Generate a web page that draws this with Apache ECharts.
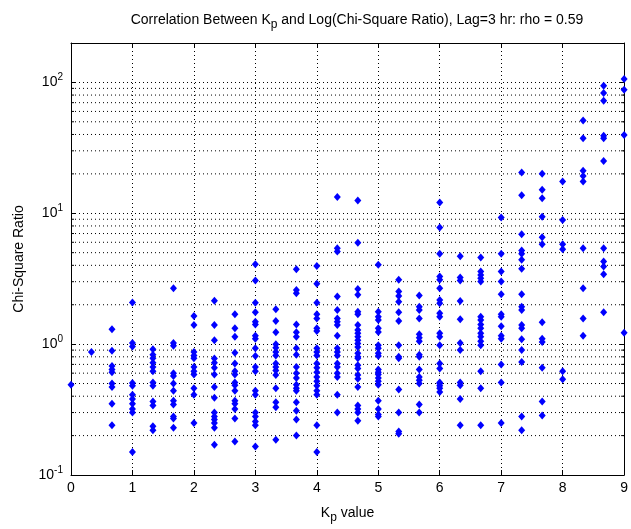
<!DOCTYPE html>
<html>
<head>
<meta charset="utf-8">
<script src="https://cdn.jsdelivr.net/npm/echarts@6/dist/echarts.min.js"></script>
<style>html,body{margin:0;padding:0;background:#fff;}#c{width:631px;height:529px;}</style>
</head>
<body>
<div id="c"></div>
<script>
// Kp levels (x) and chi-square ratios (y), one list per Kp level
const kpLevels = [0, 0.333, 0.667, 1, 1.333, 1.667, 2, 2.333, 2.667, 3, 3.333, 3.667, 4, 4.333, 4.667, 5, 5.333, 5.667, 6, 6.333, 6.667, 7, 7.333, 7.667, 8, 8.333, 8.667, 9];
const chiRatios = [
  [0.49],
  [0.87],
  [1.30, 0.89, 0.68, 0.64, 0.61, 0.50, 0.47, 0.35, 0.24],
  [2.08, 1.02, 0.96, 0.505, 0.48, 0.41, 0.38, 0.35, 0.32, 0.30, 0.15],
  [0.915, 0.83, 0.78, 0.72, 0.67, 0.62, 0.51, 0.48, 0.365, 0.34, 0.236, 0.22],
  [2.67, 1.02, 0.97, 0.60, 0.57, 0.50, 0.44, 0.37, 0.345, 0.28, 0.27, 0.23],
  [1.64, 1.40, 0.87, 0.82, 0.78, 0.67, 0.62, 0.585, 0.46, 0.41, 0.25],
  [2.15, 1.40, 1.07, 0.776, 0.72, 0.66, 0.585, 0.47, 0.39, 0.30, 0.28, 0.265, 0.25, 0.23, 0.17],
  [1.69, 1.32, 1.14, 0.86, 0.71, 0.62, 0.585, 0.51, 0.485, 0.44, 0.37, 0.35, 0.32, 0.27, 0.18],
  [4.08, 3.06, 2.07, 1.75, 1.48, 1.41, 1.16, 1.10, 0.93, 0.81, 0.67, 0.62, 0.44, 0.41, 0.30, 0.28, 0.256, 0.24, 0.165],
  [1.85, 1.50, 1.23, 1.0, 0.94, 0.87, 0.82, 0.71, 0.67, 0.63, 0.58, 0.46, 0.36, 0.33, 0.186],
  [3.74, 2.59, 2.45, 1.41, 1.23, 1.14, 0.93, 0.83, 0.67, 0.60, 0.55, 0.49, 0.46, 0.44, 0.36, 0.31, 0.265, 0.20],
  [3.96, 2.89, 2.07, 1.69, 1.57, 1.32, 1.26, 0.93, 0.87, 0.82, 0.71, 0.66, 0.61, 0.56, 0.52, 0.48, 0.44, 0.41, 0.24, 0.15],
  [13.3, 5.4, 5.1, 2.31, 1.82, 1.57, 1.48, 1.40, 1.16, 0.93, 0.87, 0.82, 0.71, 0.67, 0.60, 0.56, 0.41, 0.30],
  [12.5, 5.96, 2.64, 2.38, 1.77, 1.69, 1.40, 1.28, 1.21, 1.14, 1.07, 1.01, 0.95, 0.85, 0.80, 0.78, 0.69, 0.65, 0.58, 0.545, 0.47, 0.34, 0.32, 0.30, 0.26],
  [4.04, 1.77, 1.62, 1.53, 1.32, 1.24, 0.98, 0.93, 0.85, 0.81, 0.64, 0.61, 0.585, 0.55, 0.52, 0.49, 0.37, 0.32, 0.29, 0.28],
  [3.10, 2.52, 2.33, 2.11, 1.75, 1.50, 0.98, 0.80, 0.78, 0.45, 0.30, 0.215, 0.207],
  [2.35, 1.93, 1.82, 1.57, 1.19, 1.12, 1.05, 0.83, 0.80, 0.64, 0.56, 0.53, 0.50, 0.345, 0.30],
  [12.1, 7.8, 4.9, 3.28, 3.10, 2.67, 2.17, 2.05, 1.72, 1.62, 1.21, 1.14, 0.98, 0.71, 0.65, 0.51, 0.50, 0.48, 0.46, 0.43],
  [4.7, 3.23, 3.06, 2.14, 1.55, 1.02, 0.90, 0.51, 0.485, 0.38, 0.24],
  [4.6, 3.59, 3.38, 3.19, 3.01, 1.62, 1.53, 1.41, 1.32, 1.21, 1.14, 1.05, 0.98, 0.62, 0.46, 0.24],
  [9.3, 4.9, 3.59, 3.01, 2.40, 1.69, 1.62, 1.37, 1.16, 1.10, 0.70, 0.51, 0.25],
  [20.5, 13.7, 6.9, 5.2, 4.9, 4.41, 3.76, 2.40, 1.93, 1.82, 1.40, 1.32, 1.09, 0.90, 0.73, 0.28, 0.22],
  [20.0, 15.1, 13.0, 9.4, 6.55, 5.8, 1.47, 1.10, 1.04, 0.66, 0.365, 0.285],
  [17.5, 8.9, 5.8, 5.3, 0.62, 0.54],
  [51.2, 37.5, 21.1, 19.3, 17.5, 5.4, 2.67, 1.57, 1.16],
  [94.3, 83, 72.5, 39.1, 37.5, 25.1, 5.4, 4.28, 3.92, 3.42, 1.75],
  [106, 88, 39.7, 1.22]
];
const xTicks = [0, 1, 2, 3, 4, 5, 6, 7, 8, 9];
const yMajor = [0.1, 1, 10, 100];
const yMinor = [0.2, 0.3, 0.4, 0.5, 0.6, 0.7, 0.8, 0.9, 2, 3, 4, 5, 6, 7, 8, 9, 20, 30, 40, 50, 60, 70, 80, 90];
const titleText = 'Correlation Between K{sub|p} and Log(Chi-Square Ratio), Lag=3 hr: rho = 0.59';

const points = [];
kpLevels.forEach((k, i) => chiRatios[i].forEach(v => points.push([k, v])));

const FONT = 'Liberation Sans, Arial, Helvetica, sans-serif';
const chart = echarts.init(document.getElementById('c'), null, {renderer: 'canvas'});
const dotted = {color: '#000', width: 1, type: [1, 3]};

function supLabel(v) {
  const e = Math.round(Math.log10(v));
  if (Math.abs(Math.log10(v) - e) > 1e-6) return '';
  return '{b|10}{e|' + e + '}';
}

chart.setOption({
  animation: false,
  backgroundColor: '#fff',
  title: {
    text: titleText,
    left: 352, top: 4, textAlign: 'center',
    textStyle: {
      fontFamily: FONT, fontSize: 14, fontWeight: 'normal', color: '#000',
      rich: {sub: {fontFamily: FONT, fontSize: 12, color: '#000', padding: [10, 0, 0, 0]}}
    }
  },
  grid: {left: 71, right: 4, top: 43, bottom: 53, show: false},
  xAxis: [{
    type: 'value', min: 0, max: 9, interval: 1, position: 'bottom',
    axisLine: {show: true, onZero: false, lineStyle: {color: '#000', width: 1}},
    axisTick: {show: true, inside: true, length: 5, lineStyle: {color: '#000'}},
    axisLabel: {color: '#000', fontFamily: FONT, fontSize: 14, margin: 6},
    splitLine: {show: true, lineStyle: dotted},
    name: '{k|K}{sub|p}{k| value}', nameLocation: 'middle', nameGap: 27,
    nameTextStyle: {rich: {k: {fontFamily: FONT, fontSize: 14, color: '#000'}, sub: {fontFamily: FONT, fontSize: 12, color: '#000', padding: [10, 0, 0, 0]}}}
  }, {
    type: 'value', min: 0, max: 9, interval: 1, position: 'top',
    axisLine: {show: true, onZero: false, lineStyle: {color: '#000', width: 1}},
    axisTick: {show: true, inside: true, length: 5, lineStyle: {color: '#000'}},
    axisLabel: {show: false}, splitLine: {show: false}
  }],
  yAxis: [{
    type: 'log', logBase: 10, min: 0.1, max: 200, position: 'left',
    axisLine: {show: true, onZero: false, lineStyle: {color: '#000', width: 1}},
    axisTick: {show: true, inside: true, length: 5, lineStyle: {color: '#000'}},
    axisLabel: {
      color: '#000', margin: 8, formatter: supLabel,
      rich: {b: {fontFamily: FONT, fontSize: 14, color: '#000'}, e: {fontFamily: FONT, fontSize: 10, color: '#000', padding: [0, 0, 10, 0]}}
    },
    splitLine: {show: true, lineStyle: dotted},
    name: 'Chi-Square Ratio', nameLocation: 'middle', nameGap: 45, nameRotate: 90,
    nameTextStyle: {fontFamily: FONT, fontSize: 14, color: '#000'}
  }, {
    type: 'log', logBase: 10, min: 0.1, max: 200, position: 'right',
    axisLine: {show: true, onZero: false, lineStyle: {color: '#000', width: 1}},
    axisTick: {show: true, inside: true, length: 5, lineStyle: {color: '#000'}},
    axisLabel: {show: false}, splitLine: {show: false}
  }],
  series: [{
    type: 'custom', xAxisIndex: 0, yAxisIndex: 0, silent: true, z: 1,
    data: yMinor.map(v => [0, v]),
    renderItem: function (params, api) {
      const v = api.value(1);
      const a = api.coord([0, v]);
      const b = api.coord([9, v]);
      return {type: 'group', children: [
        {type: 'line', shape: {x1: a[0], y1: a[1], x2: b[0], y2: b[1]}, style: {stroke: '#000', lineWidth: 1, lineDash: [1, 3]}},
        {type: 'line', shape: {x1: a[0], y1: a[1], x2: a[0] + 3, y2: a[1]}, style: {stroke: '#000', lineWidth: 1}},
        {type: 'line', shape: {x1: b[0] - 3, y1: b[1], x2: b[0], y2: b[1]}, style: {stroke: '#000', lineWidth: 1}}
      ]};
    }
  }, {
    type: 'scatter', xAxisIndex: 0, yAxisIndex: 0, z: 3,
    symbol: 'diamond', symbolSize: [7, 8],
    itemStyle: {color: '#0000ff', opacity: 1},
    data: points
  }]
});
</script>
</body>
</html>
